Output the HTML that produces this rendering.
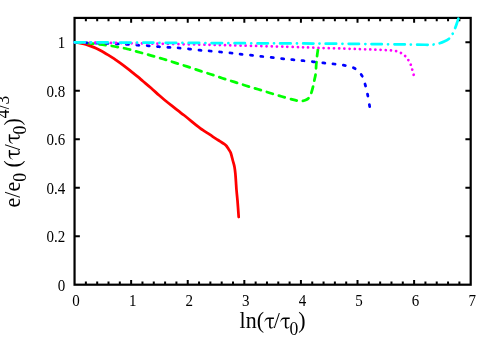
<!DOCTYPE html>
<html><head><meta charset="utf-8"><title>plot</title>
<style>
html,body{margin:0;padding:0;background:#fff;}
body{width:498px;height:349px;overflow:hidden;font-family:"Liberation Serif",serif;}
svg{display:block;will-change:transform;}
text{font-family:"Liberation Serif",serif;fill:#000;}
</style></head><body>
<svg width="498" height="349" viewBox="0 0 498 349">
<rect x="0" y="0" width="498" height="349" fill="#ffffff"/>
<path d="M85.87,284.70v-3.30M85.87,17.93v3.30M97.19,284.70v-3.30M97.19,17.93v3.30M108.51,284.70v-3.30M108.51,17.93v3.30M119.82,284.70v-3.30M119.82,17.93v3.30M131.14,284.70v-4.80M131.14,17.93v4.80M142.46,284.70v-3.30M142.46,17.93v3.30M153.78,284.70v-3.30M153.78,17.93v3.30M165.10,284.70v-3.30M165.10,17.93v3.30M176.42,284.70v-3.30M176.42,17.93v3.30M187.74,284.70v-4.80M187.74,17.93v4.80M199.05,284.70v-3.30M199.05,17.93v3.30M210.37,284.70v-3.30M210.37,17.93v3.30M221.69,284.70v-3.30M221.69,17.93v3.30M233.01,284.70v-3.30M233.01,17.93v3.30M244.33,284.70v-4.80M244.33,17.93v4.80M255.65,284.70v-3.30M255.65,17.93v3.30M266.97,284.70v-3.30M266.97,17.93v3.30M278.28,284.70v-3.30M278.28,17.93v3.30M289.60,284.70v-3.30M289.60,17.93v3.30M300.92,284.70v-4.80M300.92,17.93v4.80M312.24,284.70v-3.30M312.24,17.93v3.30M323.56,284.70v-3.30M323.56,17.93v3.30M334.88,284.70v-3.30M334.88,17.93v3.30M346.20,284.70v-3.30M346.20,17.93v3.30M357.51,284.70v-4.80M357.51,17.93v4.80M368.83,284.70v-3.30M368.83,17.93v3.30M380.15,284.70v-3.30M380.15,17.93v3.30M391.47,284.70v-3.30M391.47,17.93v3.30M402.79,284.70v-3.30M402.79,17.93v3.30M414.11,284.70v-4.80M414.11,17.93v4.80M425.43,284.70v-3.30M425.43,17.93v3.30M436.74,284.70v-3.30M436.74,17.93v3.30M448.06,284.70v-3.30M448.06,17.93v3.30M459.38,284.70v-3.30M459.38,17.93v3.30M74.55,236.20h5.30M470.70,236.20h-5.30M74.55,187.69h5.30M470.70,187.69h-5.30M74.55,139.19h5.30M470.70,139.19h-5.30M74.55,90.69h5.30M470.70,90.69h-5.30M74.55,42.18h5.30M470.70,42.18h-5.30" stroke="#000" stroke-width="2.0" fill="none"/>
<rect x="74.55" y="17.93" width="396.15" height="266.77" fill="none" stroke="#000" stroke-width="2.2"/>
<g fill="none" stroke-linejoin="round" stroke-linecap="round">
<path d="M74.60,42.40 C75.33,42.48 77.43,42.62 79.00,42.88 C80.57,43.14 82.50,43.56 84.00,43.93 C85.50,44.30 86.67,44.67 88.00,45.12 C89.33,45.57 90.67,46.07 92.00,46.61 C93.33,47.15 94.67,47.73 96.00,48.35 C97.33,48.97 98.67,49.63 100.00,50.33 C101.33,51.02 102.67,51.76 104.00,52.52 C105.33,53.28 106.67,54.08 108.00,54.90 C109.33,55.72 110.67,56.57 112.00,57.44 C113.33,58.31 114.67,59.21 116.00,60.13 C117.33,61.05 118.33,61.74 120.00,62.95 C121.67,64.16 124.00,65.88 126.00,67.40 C128.00,68.92 130.00,70.48 132.00,72.07 C134.00,73.66 136.16,75.40 138.00,76.93 C139.84,78.46 140.85,79.38 143.03,81.24 C145.21,83.09 148.38,85.72 151.06,88.06 C153.74,90.40 156.89,93.36 159.10,95.30 C161.31,97.24 162.14,97.93 164.30,99.70 C166.46,101.47 168.75,103.30 172.05,105.90 C175.35,108.50 180.19,112.18 184.10,115.30 C188.01,118.42 192.85,122.47 195.50,124.60 C198.15,126.72 198.58,127.02 200.00,128.05 C201.42,129.08 202.67,129.91 204.00,130.80 C205.33,131.69 206.66,132.50 208.00,133.40 C209.34,134.30 210.70,135.30 212.05,136.20 C213.40,137.10 214.76,137.95 216.10,138.80 C217.44,139.65 218.77,140.45 220.10,141.30 C221.43,142.15 223.03,143.12 224.10,143.90 C225.17,144.68 225.77,145.13 226.50,146.00 C227.23,146.87 227.83,148.05 228.50,149.10 C229.17,150.15 229.97,151.13 230.50,152.30 C231.03,153.47 231.32,154.73 231.70,156.10 C232.08,157.47 232.33,158.70 232.80,160.50 C233.27,162.30 234.07,164.63 234.50,166.90 C234.93,169.17 235.15,171.50 235.40,174.10 C235.65,176.70 235.82,179.85 236.00,182.50 C236.18,185.15 236.25,186.97 236.50,190.00 C236.75,193.03 237.13,196.20 237.50,200.70 C237.87,205.20 238.50,214.28 238.70,217.00" stroke="#ff0000" stroke-width="2.75"/>
<path d="M74.60,42.40 C77.17,42.55 85.37,42.92 90.00,43.30 C94.63,43.68 98.27,44.17 102.40,44.70 C106.53,45.23 110.65,45.78 114.80,46.50 C118.95,47.22 123.23,48.05 127.30,49.00 C131.37,49.95 135.20,51.10 139.20,52.20 C143.20,53.30 147.28,54.47 151.30,55.60 C155.32,56.73 159.42,57.83 163.30,59.00 C167.18,60.17 170.70,61.37 174.60,62.60 C178.50,63.83 182.70,65.10 186.70,66.40 C190.70,67.70 194.62,69.10 198.60,70.40 C202.58,71.70 206.63,72.90 210.60,74.20 C214.57,75.50 218.47,76.92 222.40,78.20 C226.33,79.48 230.25,80.65 234.20,81.90 C238.15,83.15 242.13,84.47 246.10,85.70 C250.07,86.93 254.03,88.09 258.00,89.30 C261.97,90.51 265.95,91.76 269.90,92.95 C273.85,94.14 277.85,95.33 281.70,96.45 C285.55,97.58 290.28,98.98 293.00,99.70 C295.72,100.42 296.55,100.57 298.00,100.80 C299.45,101.03 300.42,101.22 301.70,101.10 C302.98,100.98 304.48,100.67 305.70,100.10 C306.92,99.53 308.10,98.80 309.00,97.70 C309.90,96.60 310.38,95.50 311.10,93.50 C311.82,91.50 312.77,87.87 313.30,85.70 C313.83,83.53 313.90,82.53 314.30,80.50 C314.70,78.47 315.38,76.08 315.70,73.50 C316.02,70.92 316.03,67.10 316.20,65.00 C316.37,62.90 316.57,62.28 316.70,60.90 C316.83,59.52 316.77,58.80 317.00,56.70 C317.23,54.60 317.92,49.70 318.10,48.30" stroke="#00ff00" stroke-width="2.75" stroke-dasharray="6.238 6.213" stroke-dashoffset="0"/>
<path d="M74.60,42.40 C78.83,42.53 92.85,42.95 100.00,43.20 C107.15,43.45 112.93,43.70 117.50,43.90 C122.07,44.10 123.98,44.18 127.40,44.40 C130.82,44.62 134.48,44.97 138.00,45.20 C141.52,45.43 145.05,45.55 148.50,45.80 C151.95,46.05 155.28,46.43 158.70,46.70 C162.12,46.97 165.58,47.18 169.00,47.40 C172.42,47.62 174.05,47.53 179.20,48.00 C184.35,48.47 194.75,49.70 199.90,50.20 C205.05,50.70 206.63,50.70 210.10,51.00 C213.57,51.30 217.22,51.67 220.70,52.00 C224.18,52.33 227.85,52.67 231.00,53.00 C234.15,53.33 234.77,53.47 239.60,54.00 C244.43,54.53 253.27,55.47 260.00,56.20 C266.73,56.93 274.53,57.82 280.00,58.40 C285.47,58.98 288.95,59.33 292.80,59.70 C296.65,60.08 297.98,60.12 303.10,60.65 C308.23,61.18 318.37,62.34 323.55,62.90 C328.73,63.46 330.71,63.58 334.20,64.00 C337.69,64.42 341.12,64.68 344.50,65.40 C347.88,66.12 351.62,66.63 354.50,68.30 C357.38,69.97 360.00,72.62 361.80,75.40 C363.60,78.18 364.32,81.72 365.30,85.00 C366.28,88.28 367.00,91.70 367.70,95.10 C368.40,98.50 369.13,103.23 369.50,105.40 C369.87,107.57 369.83,107.65 369.90,108.10" stroke="#0000ff" stroke-width="2.75" stroke-dasharray="2.088 8.288" stroke-dashoffset="0"/>
<path d="M74.60,42.40 C80.50,42.48 97.43,42.70 110.00,42.90 C122.57,43.10 135.00,43.32 150.00,43.60 C165.00,43.88 185.00,44.27 200.00,44.60 C215.00,44.93 225.43,45.23 240.00,45.60 C254.57,45.97 273.57,46.40 287.40,46.80 C301.23,47.20 313.57,47.70 323.00,48.00 C332.43,48.30 337.83,48.42 344.00,48.60 C350.17,48.78 355.57,48.96 360.00,49.10 C364.43,49.24 367.98,49.35 370.60,49.45 C373.22,49.55 374.00,49.64 375.70,49.70 C377.40,49.76 379.10,49.74 380.80,49.80 C382.50,49.86 384.18,49.95 385.90,50.05 C387.62,50.15 389.37,50.20 391.10,50.40 C392.83,50.60 394.63,50.81 396.30,51.25 C397.97,51.69 399.62,52.26 401.10,53.06 C402.58,53.86 404.00,54.91 405.20,56.07 C406.40,57.23 407.38,58.64 408.30,60.05 C409.22,61.45 410.05,62.91 410.70,64.50 C411.35,66.09 411.72,67.93 412.20,69.60 C412.68,71.27 413.33,73.52 413.60,74.50 C413.87,75.48 413.77,75.33 413.80,75.50" stroke="#ff00ff" stroke-width="2.75" stroke-dasharray="0.013 5.175" stroke-dashoffset="0"/>
<path d="M74.60,42.30 C87.17,42.37 122.43,42.55 150.00,42.70 C177.57,42.85 211.67,43.05 240.00,43.20 C268.33,43.35 295.00,43.42 320.00,43.60 C345.00,43.78 372.50,44.11 390.00,44.30 C407.50,44.49 417.73,44.72 425.00,44.75 C432.27,44.78 431.32,44.71 433.60,44.50 C435.88,44.29 436.95,43.98 438.70,43.50 C440.45,43.02 442.30,42.47 444.10,41.60 C445.90,40.73 448.05,39.65 449.50,38.30 C450.95,36.95 451.90,35.10 452.80,33.50 C453.70,31.90 454.23,30.37 454.90,28.70 C455.57,27.03 456.22,25.17 456.80,23.50 C457.38,21.83 458.13,19.50 458.40,18.70" stroke="#00ffff" stroke-width="2.75" stroke-dasharray="10.388 6.213 0.013 6.213" stroke-dashoffset="0"/>
</g>
<text transform="translate(76.05,305.90) scale(1,1.09)" font-size="15.0px" text-anchor="middle">0</text>
<text transform="translate(132.64,305.90) scale(1,1.09)" font-size="15.0px" text-anchor="middle">1</text>
<text transform="translate(189.24,305.90) scale(1,1.09)" font-size="15.0px" text-anchor="middle">2</text>
<text transform="translate(245.83,305.90) scale(1,1.09)" font-size="15.0px" text-anchor="middle">3</text>
<text transform="translate(302.42,305.90) scale(1,1.09)" font-size="15.0px" text-anchor="middle">4</text>
<text transform="translate(359.01,305.90) scale(1,1.09)" font-size="15.0px" text-anchor="middle">5</text>
<text transform="translate(415.61,305.90) scale(1,1.09)" font-size="15.0px" text-anchor="middle">6</text>
<text transform="translate(472.20,305.90) scale(1,1.09)" font-size="15.0px" text-anchor="middle">7</text>
<text transform="translate(65.30,290.60) scale(1,1.09)" font-size="15.0px" text-anchor="end">0</text>
<text transform="translate(65.30,242.10) scale(1,1.09)" font-size="15.0px" text-anchor="end">0.2</text>
<text transform="translate(65.30,193.59) scale(1,1.09)" font-size="15.0px" text-anchor="end">0.4</text>
<text transform="translate(65.30,145.09) scale(1,1.09)" font-size="15.0px" text-anchor="end">0.6</text>
<text transform="translate(65.30,96.59) scale(1,1.09)" font-size="15.0px" text-anchor="end">0.8</text>
<text transform="translate(65.30,48.08) scale(1,1.09)" font-size="15.0px" text-anchor="end">1</text>
<text transform="translate(239.60,328.30) scale(1,1.09)" font-size="22.0px">l</text>
<text transform="translate(245.72,328.30) scale(1,1.09)" font-size="22.0px">n</text>
<text transform="translate(256.72,328.30) scale(1,1.09)" font-size="22.0px">(</text>
<path transform="translate(264.04,328.30)" d="M0.4,-6.7C1.0,-9.2 2.3,-10.8 4.2,-10.8L9.9,-10.8L9.9,-9.4L6.7,-9.4L6.6,-2.6C6.6,-1.4 7.2,-0.8 8.0,-0.8C8.6,-0.8 9.1,-1.2 9.5,-1.9L9.9,-1.7C9.4,-0.4 8.5,0.25 7.4,0.25C5.9,0.25 5.0,-0.7 5.0,-2.6L5.1,-9.4L4.1,-9.4C2.6,-9.4 1.5,-8.6 0.75,-6.55Z" fill="#000"/>
<text transform="translate(273.70,328.30) scale(1,1.09)" font-size="22.0px">/</text>
<path transform="translate(279.82,328.30)" d="M0.4,-6.7C1.0,-9.2 2.3,-10.8 4.2,-10.8L9.9,-10.8L9.9,-9.4L6.7,-9.4L6.6,-2.6C6.6,-1.4 7.2,-0.8 8.0,-0.8C8.6,-0.8 9.1,-1.2 9.5,-1.9L9.9,-1.7C9.4,-0.4 8.5,0.25 7.4,0.25C5.9,0.25 5.0,-0.7 5.0,-2.6L5.1,-9.4L4.1,-9.4C2.6,-9.4 1.5,-8.6 0.75,-6.55Z" fill="#000"/>
<text transform="translate(289.47,334.62) scale(1,1.09)" font-size="17.6px">0</text>
<text transform="translate(298.27,328.30) scale(1,1.09)" font-size="22.0px">)</text>
<text transform="translate(19.60,207.60) rotate(-90) scale(1,1.09)" font-size="22.0px">e</text>
<text transform="translate(19.60,197.78) rotate(-90) scale(1,1.09)" font-size="22.0px">/</text>
<text transform="translate(19.60,191.62) rotate(-90) scale(1,1.09)" font-size="22.0px">e</text>
<text transform="translate(25.92,181.80) rotate(-90) scale(1,1.09)" font-size="17.6px">0</text>
<text transform="translate(19.60,167.40) rotate(-90) scale(1,1.09)" font-size="22.0px">(</text>
<path transform="translate(19.60,160.02) rotate(-90)" d="M0.4,-6.7C1.0,-9.2 2.3,-10.8 4.2,-10.8L9.9,-10.8L9.9,-9.4L6.7,-9.4L6.6,-2.6C6.6,-1.4 7.2,-0.8 8.0,-0.8C8.6,-0.8 9.1,-1.2 9.5,-1.9L9.9,-1.7C9.4,-0.4 8.5,0.25 7.4,0.25C5.9,0.25 5.0,-0.7 5.0,-2.6L5.1,-9.4L4.1,-9.4C2.6,-9.4 1.5,-8.6 0.75,-6.55Z" fill="#000"/>
<text transform="translate(19.60,150.31) rotate(-90) scale(1,1.09)" font-size="22.0px">/</text>
<path transform="translate(19.60,144.15) rotate(-90)" d="M0.4,-6.7C1.0,-9.2 2.3,-10.8 4.2,-10.8L9.9,-10.8L9.9,-9.4L6.7,-9.4L6.6,-2.6C6.6,-1.4 7.2,-0.8 8.0,-0.8C8.6,-0.8 9.1,-1.2 9.5,-1.9L9.9,-1.7C9.4,-0.4 8.5,0.25 7.4,0.25C5.9,0.25 5.0,-0.7 5.0,-2.6L5.1,-9.4L4.1,-9.4C2.6,-9.4 1.5,-8.6 0.75,-6.55Z" fill="#000"/>
<text transform="translate(25.92,134.44) rotate(-90) scale(1,1.09)" font-size="17.6px">0</text>
<text transform="translate(19.60,125.59) rotate(-90) scale(1,1.09)" font-size="22.0px">)</text>
<text transform="translate(8.59,118.21) rotate(-90) scale(1,1.09)" font-size="17.6px">4</text>
<text transform="translate(8.59,109.36) rotate(-90) scale(1,1.09)" font-size="17.6px">/</text>
<text transform="translate(8.59,104.42) rotate(-90) scale(1,1.09)" font-size="17.6px">3</text>
</svg>
</body></html>
